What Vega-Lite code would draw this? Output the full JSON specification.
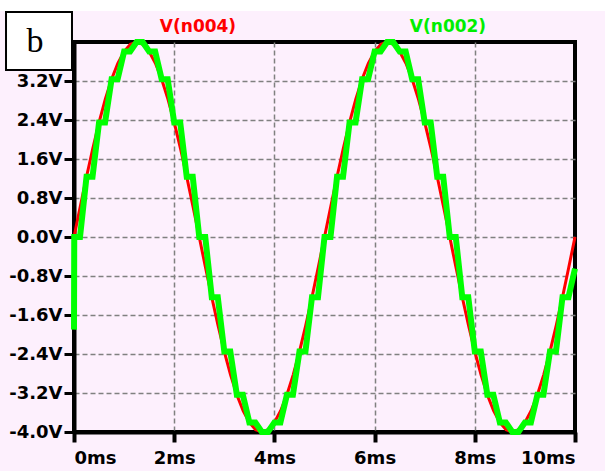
{
  "$schema": "https://vega.github.io/schema/vega-lite/v6.json",
  "autosize": {"type": "none"},
  "width": 501,
  "height": 390,
  "padding": {"left": 74, "top": 42, "right": 30, "bottom": 39},
  "background": "#fdf0fd",
  "config": {
    "view": {"stroke": "#000000", "strokeWidth": 4},
    "axis": {
      "labelFont": "DejaVu Sans",
      "labelFontWeight": "bold",
      "labelFontSize": 18,
      "labelColor": "#000000",
      "domainColor": "#000000",
      "domainWidth": 4,
      "tickColor": "#000000",
      "gridColor": "#808080",
      "gridDash": [5, 3],
      "gridWidth": 1.5,
      "title": null
    }
  },
  "datasets": {
    "red": [
      {"t": 0, "v": 0}, {"t": 0.125, "v": 0.626}, {"t": 0.25, "v": 1.236}, {"t": 0.375, "v": 1.816}, {"t": 0.5, "v": 2.351},
      {"t": 0.625, "v": 2.828}, {"t": 0.75, "v": 3.236}, {"t": 0.875, "v": 3.564}, {"t": 1, "v": 3.804}, {"t": 1.125, "v": 3.951},
      {"t": 1.25, "v": 4.0}, {"t": 1.375, "v": 3.951}, {"t": 1.5, "v": 3.804}, {"t": 1.625, "v": 3.564}, {"t": 1.75, "v": 3.236},
      {"t": 1.875, "v": 2.828}, {"t": 2, "v": 2.351}, {"t": 2.125, "v": 1.816}, {"t": 2.25, "v": 1.236}, {"t": 2.375, "v": 0.626},
      {"t": 2.5, "v": 0}, {"t": 2.625, "v": -0.626}, {"t": 2.75, "v": -1.236}, {"t": 2.875, "v": -1.816}, {"t": 3, "v": -2.351},
      {"t": 3.125, "v": -2.828}, {"t": 3.25, "v": -3.236}, {"t": 3.375, "v": -3.564}, {"t": 3.5, "v": -3.804}, {"t": 3.625, "v": -3.951},
      {"t": 3.75, "v": -4.0}, {"t": 3.875, "v": -3.951}, {"t": 4, "v": -3.804}, {"t": 4.125, "v": -3.564}, {"t": 4.25, "v": -3.236},
      {"t": 4.375, "v": -2.828}, {"t": 4.5, "v": -2.351}, {"t": 4.625, "v": -1.816}, {"t": 4.75, "v": -1.236}, {"t": 4.875, "v": -0.626},
      {"t": 5, "v": 0}, {"t": 5.125, "v": 0.626}, {"t": 5.25, "v": 1.236}, {"t": 5.375, "v": 1.816}, {"t": 5.5, "v": 2.351},
      {"t": 5.625, "v": 2.828}, {"t": 5.75, "v": 3.236}, {"t": 5.875, "v": 3.564}, {"t": 6, "v": 3.804}, {"t": 6.125, "v": 3.951},
      {"t": 6.25, "v": 4.0}, {"t": 6.375, "v": 3.951}, {"t": 6.5, "v": 3.804}, {"t": 6.625, "v": 3.564}, {"t": 6.75, "v": 3.236},
      {"t": 6.875, "v": 2.828}, {"t": 7, "v": 2.351}, {"t": 7.125, "v": 1.816}, {"t": 7.25, "v": 1.236}, {"t": 7.375, "v": 0.626},
      {"t": 7.5, "v": 0}, {"t": 7.625, "v": -0.626}, {"t": 7.75, "v": -1.236}, {"t": 7.875, "v": -1.816}, {"t": 8, "v": -2.351},
      {"t": 8.125, "v": -2.828}, {"t": 8.25, "v": -3.236}, {"t": 8.375, "v": -3.564}, {"t": 8.5, "v": -3.804}, {"t": 8.625, "v": -3.951},
      {"t": 8.75, "v": -4.0}, {"t": 8.875, "v": -3.951}, {"t": 9, "v": -3.804}, {"t": 9.125, "v": -3.564}, {"t": 9.25, "v": -3.236},
      {"t": 9.375, "v": -2.828}, {"t": 9.5, "v": -2.351}, {"t": 9.625, "v": -1.816}, {"t": 9.75, "v": -1.236}, {"t": 9.875, "v": -0.626},
      {"t": 10, "v": 0}
    ],
    "green": [
      {"t": 0, "v": -1.9}, {"t": 0.005, "v": 0}, {"t": 0.12, "v": 0},
      {"t": 0.25, "v": 1.236}, {"t": 0.37, "v": 1.236},
      {"t": 0.5, "v": 2.351}, {"t": 0.62, "v": 2.351},
      {"t": 0.75, "v": 3.236}, {"t": 0.87, "v": 3.236},
      {"t": 1.0, "v": 3.804}, {"t": 1.12, "v": 3.804},
      {"t": 1.25, "v": 4.0}, {"t": 1.37, "v": 4.0},
      {"t": 1.5, "v": 3.804}, {"t": 1.62, "v": 3.804},
      {"t": 1.75, "v": 3.236}, {"t": 1.87, "v": 3.236},
      {"t": 2.0, "v": 2.351}, {"t": 2.12, "v": 2.351},
      {"t": 2.25, "v": 1.236}, {"t": 2.37, "v": 1.236},
      {"t": 2.5, "v": 0}, {"t": 2.62, "v": 0},
      {"t": 2.75, "v": -1.236}, {"t": 2.87, "v": -1.236},
      {"t": 3.0, "v": -2.351}, {"t": 3.12, "v": -2.351},
      {"t": 3.25, "v": -3.236}, {"t": 3.37, "v": -3.236},
      {"t": 3.5, "v": -3.804}, {"t": 3.62, "v": -3.804},
      {"t": 3.75, "v": -4.0}, {"t": 3.87, "v": -4.0},
      {"t": 4.0, "v": -3.804}, {"t": 4.12, "v": -3.804},
      {"t": 4.25, "v": -3.236}, {"t": 4.37, "v": -3.236},
      {"t": 4.5, "v": -2.351}, {"t": 4.62, "v": -2.351},
      {"t": 4.75, "v": -1.236}, {"t": 4.87, "v": -1.236},
      {"t": 5.0, "v": 0}, {"t": 5.12, "v": 0},
      {"t": 5.25, "v": 1.236}, {"t": 5.37, "v": 1.236},
      {"t": 5.5, "v": 2.351}, {"t": 5.62, "v": 2.351},
      {"t": 5.75, "v": 3.236}, {"t": 5.87, "v": 3.236},
      {"t": 6.0, "v": 3.804}, {"t": 6.12, "v": 3.804},
      {"t": 6.25, "v": 4.0}, {"t": 6.37, "v": 4.0},
      {"t": 6.5, "v": 3.804}, {"t": 6.62, "v": 3.804},
      {"t": 6.75, "v": 3.236}, {"t": 6.87, "v": 3.236},
      {"t": 7.0, "v": 2.351}, {"t": 7.12, "v": 2.351},
      {"t": 7.25, "v": 1.236}, {"t": 7.37, "v": 1.236},
      {"t": 7.5, "v": 0}, {"t": 7.62, "v": 0},
      {"t": 7.75, "v": -1.236}, {"t": 7.87, "v": -1.236},
      {"t": 8.0, "v": -2.351}, {"t": 8.12, "v": -2.351},
      {"t": 8.25, "v": -3.236}, {"t": 8.37, "v": -3.236},
      {"t": 8.5, "v": -3.804}, {"t": 8.62, "v": -3.804},
      {"t": 8.75, "v": -4.0}, {"t": 8.87, "v": -4.0},
      {"t": 9.0, "v": -3.804}, {"t": 9.12, "v": -3.804},
      {"t": 9.25, "v": -3.236}, {"t": 9.37, "v": -3.236},
      {"t": 9.5, "v": -2.351}, {"t": 9.62, "v": -2.351},
      {"t": 9.75, "v": -1.236}, {"t": 9.87, "v": -1.236},
      {"t": 10, "v": -0.65}
    ]
  },
  "layer": [
    {
      "data": {"name": "red"},
      "mark": {"type": "line", "color": "#ff0000", "strokeWidth": 3},
      "encoding": {
        "x": {
          "field": "t", "type": "quantitative", "title": null,
          "scale": {"domain": [0, 10], "nice": false, "zero": false},
          "axis": {
            "values": [0, 2, 4, 6, 8, 10],
            "labelExpr": "datum.value + 'ms'",
            "tickSize": 10, "tickWidth": 4, "labelPadding": 7,
            "grid": true,
            "gridOpacity": {"condition": {"test": "datum.value == 0 || datum.value == 10", "value": 0}, "value": 1}
          }
        },
        "y": {
          "field": "v", "type": "quantitative", "title": null,
          "scale": {"domain": [-4, 4], "nice": false, "zero": false},
          "axis": {
            "values": [-4, -3.2, -2.4, -1.6, -0.8, 0, 0.8, 1.6, 2.4, 3.2],
            "labelExpr": "(datum.value < 0 ? '-' : '') + format(abs(datum.value), '.1f') + 'V'",
            "tickSize": 10, "tickWidth": 3, "labelPadding": 2,
            "grid": true,
            "gridOpacity": {"condition": {"test": "datum.value == -4", "value": 0}, "value": 1}
          }
        }
      }
    },
    {
      "data": {"name": "green"},
      "mark": {"type": "line", "color": "#00ff00", "strokeWidth": 6},
      "encoding": {
        "x": {"field": "t", "type": "quantitative", "title": null},
        "y": {"field": "v", "type": "quantitative", "title": null}
      }
    },
    {
      "data": {"values": [{}]},
      "mark": {"type": "rect", "fill": "#ffffff"},
      "encoding": {
        "x": {"datum": -1.48, "type": "quantitative"},
        "x2": {"datum": 10.6},
        "y": {"datum": 4.862, "type": "quantitative"},
        "y2": {"datum": 4.636}
      }
    },
    {
      "data": {"values": [{}]},
      "mark": {"type": "rect", "fill": "#ffffff", "stroke": "#000000", "strokeWidth": 2},
      "encoding": {
        "x": {"datum": -1.357, "type": "quantitative"},
        "x2": {"datum": -0.04},
        "y": {"datum": 4.615, "type": "quantitative"},
        "y2": {"datum": 3.426}
      }
    },
    {
      "data": {"values": [{}]},
      "mark": {"type": "text", "text": "b", "font": "Liberation Serif", "fontSize": 34, "color": "#000000", "align": "center", "baseline": "alphabetic"},
      "encoding": {
        "x": {"datum": -0.778, "type": "quantitative"},
        "y": {"datum": 3.795, "type": "quantitative"}
      }
    },
    {
      "data": {"values": [{}]},
      "mark": {"type": "text", "text": "V(n004)", "font": "DejaVu Sans", "fontWeight": "bold", "fontSize": 17, "color": "#ff0000", "align": "center", "baseline": "alphabetic"},
      "encoding": {
        "x": {"datum": 2.475, "type": "quantitative"},
        "y": {"datum": 4.205, "type": "quantitative"}
      }
    },
    {
      "data": {"values": [{}]},
      "mark": {"type": "text", "text": "V(n002)", "font": "DejaVu Sans", "fontWeight": "bold", "fontSize": 17, "color": "#00ee00", "align": "center", "baseline": "alphabetic"},
      "encoding": {
        "x": {"datum": 7.465, "type": "quantitative"},
        "y": {"datum": 4.205, "type": "quantitative"}
      }
    }
  ]
}
